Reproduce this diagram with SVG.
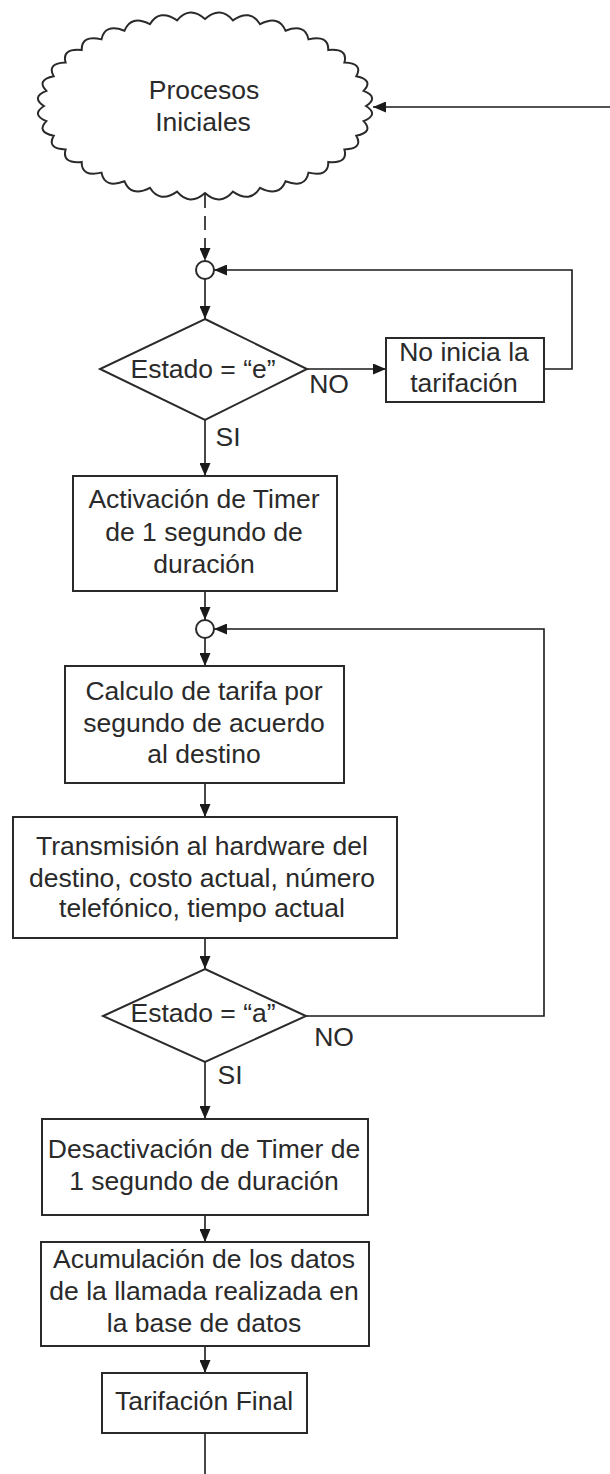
<svg xmlns="http://www.w3.org/2000/svg" width="610" height="1474" viewBox="0 0 610 1474">
<style>
.shape{fill:#fff;stroke:#2a2a2a;stroke-width:2}
.conn{fill:none;stroke:#1a1a1a;stroke-width:1.6}
.t{font-family:"Liberation Sans",Arial,sans-serif;font-size:26.5px;fill:#2a2a2a;text-anchor:middle}
</style>
<defs>
<marker id="ah" viewBox="0 0 13 11" refX="13" refY="5.5" markerWidth="13" markerHeight="11" markerUnits="userSpaceOnUse" orient="auto">
<path d="M0,0 L13,5.5 L0,11 z" fill="#1a1a1a"/>
</marker>
</defs>
<rect width="610" height="1474" fill="#fff"/>
<g id="connectors">
<line class="conn" x1="610" y1="107" x2="373" y2="107" marker-end="url(#ah)"/>
<line class="conn" x1="205" y1="194" x2="205" y2="261" stroke-dasharray="14,8" marker-end="url(#ah)"/>
<line class="conn" x1="205" y1="279" x2="205" y2="319" marker-end="url(#ah)"/>
<polyline class="conn" points="544,369 572,369 572,270 214,270" marker-end="url(#ah)"/>
<line class="conn" x1="307" y1="369" x2="386" y2="369" marker-end="url(#ah)"/>
<line class="conn" x1="205" y1="420" x2="205" y2="476" marker-end="url(#ah)"/>
<line class="conn" x1="205" y1="591" x2="205" y2="620" marker-end="url(#ah)"/>
<line class="conn" x1="205" y1="638" x2="205" y2="666" marker-end="url(#ah)"/>
<polyline class="conn" points="306,1016 544,1016 544,629 214,629" marker-end="url(#ah)"/>
<line class="conn" x1="205" y1="783" x2="205" y2="817" marker-end="url(#ah)"/>
<line class="conn" x1="205" y1="938" x2="205" y2="969" marker-end="url(#ah)"/>
<line class="conn" x1="205" y1="1062" x2="205" y2="1119" marker-end="url(#ah)"/>
<line class="conn" x1="205" y1="1215" x2="205" y2="1242" marker-end="url(#ah)"/>
<line class="conn" x1="205" y1="1346" x2="205" y2="1373" marker-end="url(#ah)"/>
<line class="conn" x1="205" y1="1433" x2="205" y2="1474"/>
<text class="t" x="329" y="393">NO</text>
<text class="t" x="228" y="446">SI</text>
<text class="t" x="334" y="1046">NO</text>
<text class="t" x="230" y="1084">SI</text>
</g>
<g id="cloud">
<path class="shape" d="M 366,106 Q 379.3,114.8 363.6,121.1 Q 374.0,132.1 356.3,135.8 Q 363.6,148.7 344.4,149.5 Q 348.4,163.9 328.3,161.9 Q 328.7,177.4 308.5,172.6 Q 305.4,188.7 285.5,181.3 Q 279.0,197.5 260.1,187.8 Q 250.3,203.6 232.9,191.7 Q 220.3,206.6 205,193 Q 189.7,206.6 177.1,191.7 Q 159.7,203.6 149.9,187.8 Q 131.0,197.5 124.5,181.3 Q 104.6,188.7 101.5,172.6 Q 81.3,177.4 81.7,161.9 Q 61.6,163.9 65.6,149.5 Q 46.4,148.7 53.7,135.8 Q 36.0,132.1 46.4,121.1 Q 30.7,114.8 44,106 Q 30.7,97.2 46.4,90.9 Q 36.0,79.9 53.7,76.2 Q 46.4,63.3 65.6,62.5 Q 61.6,48.1 81.7,50.1 Q 81.3,34.6 101.5,39.4 Q 104.6,23.3 124.5,30.7 Q 131.0,14.5 149.9,24.2 Q 159.7,8.4 177.1,20.3 Q 189.7,5.4 205,19 Q 220.3,5.4 232.9,20.3 Q 250.3,8.4 260.1,24.2 Q 279.0,14.5 285.5,30.7 Q 305.4,23.3 308.5,39.4 Q 328.7,34.6 328.3,50.1 Q 348.4,48.1 344.4,62.5 Q 363.6,63.3 356.3,76.2 Q 374.0,79.9 363.6,90.9 Q 379.3,97.2 366,106 Z"/>
<text class="t" x="204" y="99">Procesos</text>
<text class="t" x="203" y="131">Iniciales</text>
</g>
<g id="junction1"><circle class="shape" cx="205" cy="270" r="9"/></g>
<g id="decision1">
<polygon class="shape" points="205,319 307,369 205,420 100,369"/>
<text class="t" x="203" y="378">Estado = “e”</text>
</g>
<g id="noInicia">
<rect class="shape" x="386" y="338" width="158" height="64"/>
<text class="t" x="464" y="361">No inicia la</text>
<text class="t" x="464" y="392">tarifación</text>
</g>
<g id="activacion">
<rect class="shape" x="73" y="476" width="264" height="115"/>
<text class="t" x="204" y="508">Activación de Timer</text>
<text class="t" x="204" y="541">de 1 segundo de</text>
<text class="t" x="204" y="573">duración</text>
</g>
<g id="junction2"><circle class="shape" cx="205" cy="629" r="9"/></g>
<g id="calculo">
<rect class="shape" x="65" y="666" width="279" height="117"/>
<text class="t" x="204" y="700">Calculo de tarifa por</text>
<text class="t" x="204" y="732">segundo de acuerdo</text>
<text class="t" x="204" y="763">al destino</text>
</g>
<g id="transmision">
<rect class="shape" x="13" y="817" width="384" height="121"/>
<text class="t" x="202" y="855">Transmisión al hardware del</text>
<text class="t" x="202" y="887">destino, costo actual, número</text>
<text class="t" x="202" y="917">telefónico, tiempo actual</text>
</g>
<g id="decision2">
<polygon class="shape" points="205,969 306,1016 205,1062 103,1016"/>
<text class="t" x="203" y="1022">Estado = “a”</text>
</g>
<g id="desactivacion">
<rect class="shape" x="42" y="1119" width="326" height="96"/>
<text class="t" x="204" y="1158">Desactivación de Timer de</text>
<text class="t" x="204" y="1190">1 segundo de duración</text>
</g>
<g id="acumulacion">
<rect class="shape" x="41" y="1242" width="328" height="104"/>
<text class="t" x="204" y="1268">Acumulación de los datos</text>
<text class="t" x="204" y="1300">de la llamada realizada en</text>
<text class="t" x="204" y="1332">la base de datos</text>
</g>
<g id="final">
<rect class="shape" x="102" y="1373" width="205" height="60"/>
<text class="t" x="204" y="1410">Tarifación Final</text>
</g>
</svg>
